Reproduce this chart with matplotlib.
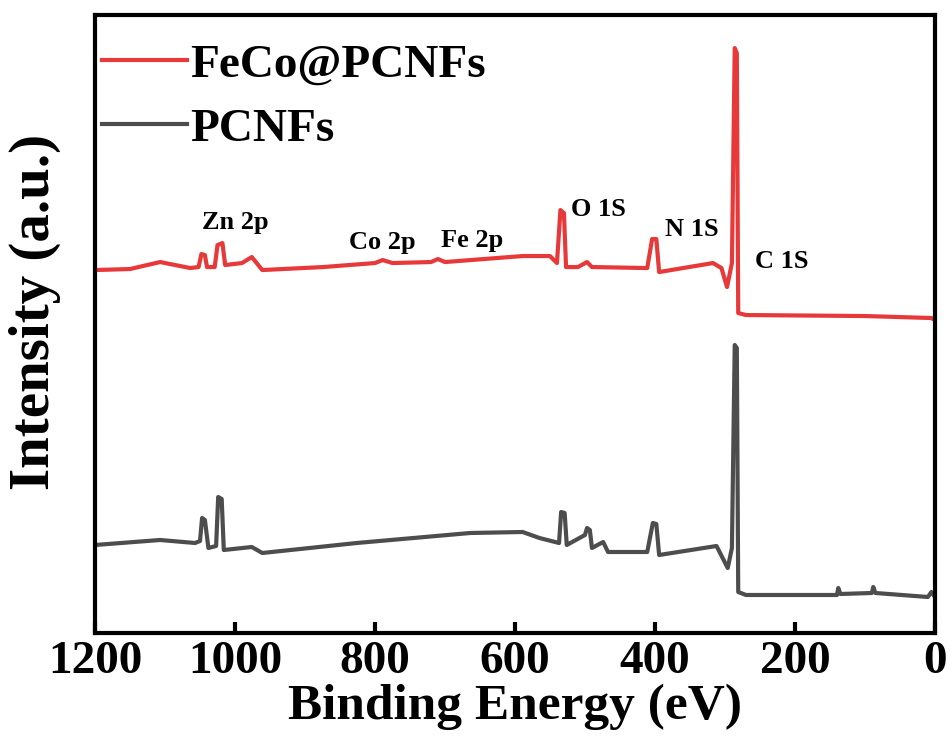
'''
XPS survey spectra of FeCo@PCNFs and PCNFs
'''

import numpy as np
import matplotlib.pyplot as plt

plt.rcParams['font.family'] = ['Liberation Serif', 'DejaVu Serif']
plt.rcParams['font.weight'] = 'bold'

# values (binding energy in eV, intensity in a.u.)
e_feco = [1200, 1150, 1107, 1064, 1052, 1048, 1043, 1040, 1029, 1025, 1018, 1014,
          990, 976, 961, 874, 800, 789, 775, 720, 710, 700, 589, 550, 540, 535,
          530, 527, 510, 497, 490, 411, 404, 398, 394, 317, 305, 297, 290, 286,
          283, 281, 270, 100, 5, 0]
i_feco = [363, 364, 371, 365, 366, 379, 378, 366, 366, 388, 390, 368,
          370, 376, 363, 366, 370, 373, 370, 371, 374, 371, 377, 377, 370, 423,
          420, 366, 366, 371, 366, 365, 394, 394, 361, 370, 365, 346, 370, 585,
          580, 320, 318, 317, 315, 313]

e_pcnf = [1200, 1107, 1057, 1050, 1047, 1043, 1038, 1027, 1024, 1019, 1016, 976,
          961, 826, 664, 589, 565, 537, 534, 529, 526, 500, 497, 493, 490, 474,
          467, 411, 403, 398, 394, 312, 296, 290, 286, 283, 281, 270, 140, 138,
          135, 90, 88, 85, 10, 5, 0]
i_pcnf = [88, 93, 90, 92, 115, 113, 85, 87, 136, 134, 83, 86,
          80, 90, 100, 101, 95, 90, 121, 120, 88, 98, 105, 103, 85, 91,
          81, 81, 110, 109, 78, 87, 65, 85, 288, 285, 41, 38, 38, 45,
          39, 40, 46, 40, 36, 41, 36]

peak_names = ['Zn 2p', 'Co 2p', 'Fe 2p', 'O 1S', 'N 1S', 'C 1S']
peak_e = [1000, 789, 661, 481, 347, 219]
peak_i = [411, 391, 393, 424, 404, 372]

fig = plt.figure(figsize=(9.53, 7.54), dpi=100)
ax = fig.add_axes([0.0997, 0.1605, 0.8813, 0.8195])

ax.plot(e_feco, i_feco, color='#E8393A', lw=3, label='FeCo@PCNFs')
ax.plot(e_pcnf, i_pcnf, color='#4D4D4D', lw=3, label='PCNFs')

for name, e, i in zip(peak_names, peak_e, peak_i):
    ax.text(e, i, name, ha='center', va='center', fontsize=19, fontweight='bold')

ax.set_xlim(1200, 0)
ax.set_ylim(0, 618)
ax.set_xticks(np.arange(0, 1201, 200))
ax.set_yticks([])
ax.tick_params(axis='x', direction='in', length=8, width=3, labelsize=34, pad=6)
for lab in ax.get_xticklabels():
    lab.set_fontweight('bold')
for s in ax.spines.values():
    s.set_linewidth(3)

ax.set_xlabel('Binding Energy (eV)', fontsize=37, fontweight='bold', labelpad=0)
ax.set_ylabel('Intensity (a.u.)', fontsize=41, fontweight='bold')
ax.yaxis.set_label_coords(-0.040, 0.52)

ax.legend(loc='upper left', bbox_to_anchor=(-0.025, 1.0), frameon=False,
          handlelength=1.8, handletextpad=0.05, borderaxespad=0.2, labelspacing=0.45,
          prop={'weight': 'bold', 'size': 34})

plt.savefig('out.png')
